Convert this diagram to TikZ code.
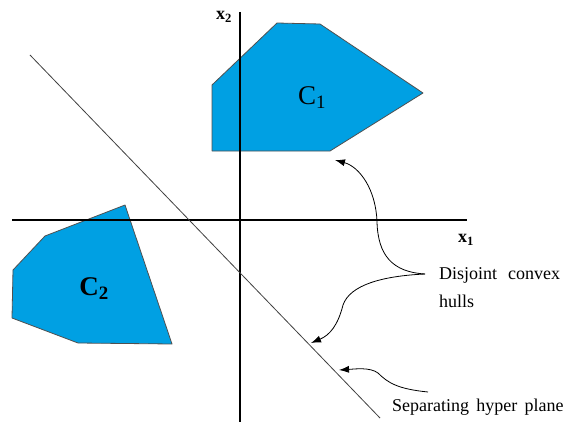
\documentclass[tikz,border=0pt]{standalone}
\usepackage{fontspec}
\setmainfont{Liberation Serif}
\usetikzlibrary{arrows.meta}
\definecolor{hullblue}{RGB}{0,160,227}
\definecolor{hulledge}{RGB}{80,80,80}
\tikzset{
  hull/.style={fill=hullblue, draw=hulledge, line width=0.8pt, line join=round},
  axis/.style={draw=black, line width=1.8pt},
  sepline/.style={draw=black!75, line width=0.8pt},
  callout/.style={draw=black, line width=0.8pt, -{Latex[length=10pt,width=7pt]}},
  lbl/.style={font=\fontsize{18}{20}\selectfont, inner sep=1pt, anchor=west},
  axlbl/.style={font=\fontsize{18}{20}\selectfont\bfseries, inner sep=1pt},
  hulllbl/.style={font=\fontsize{27}{29}\selectfont, inner sep=1pt},
}
\begin{document}
\begin{tikzpicture}[x=1pt,y=-1pt]
\useasboundingbox (0,0) rectangle (567,425);
% hulls
\path[hull] (212,85) -- (277,23) -- (320,24) -- (423,93) -- (330,151) -- (212,151) -- cycle;
\path[hull] (125,205) -- (45,236) -- (13,270) -- (12,318) -- (78,343) -- (172,344) -- cycle;
% axes
\coordinate (xl) at (12,220);
\coordinate (xr) at (467,220);
\coordinate (yt) at (240,12);
\coordinate (yb) at (240,422);
\draw[axis] (xl) -- (xr);
\draw[axis] (yt) -- (yb);
% separating line
\coordinate (s1) at (30,55);
\coordinate (s2) at (380,418);
\draw[sepline] (s1) -- (s2);
% labels
\node[hulllbl] (c1) at (312,98) {C\textsubscript{1}};
\node[hulllbl,font=\fontsize{27}{29}\selectfont\bfseries] (c2) at (94,289) {C\textsubscript{2}};
\node[axlbl] (x1) at (466,240) {x\textsubscript{1}};
\node[axlbl] (x2) at (224,17) {x\textsubscript{2}};
\node[lbl] (dis) at (438,275) {Disjoint\hspace{0.6em}convex};
\node[lbl] (hul) at (438,301) {hulls};
\node[lbl] (sep) at (391,407) {Separating\hspace{0.4em}hyper\hspace{0.4em}plane};
% callouts
\coordinate (a1) at (425,274);
\coordinate (t1) at (335,160);
\coordinate (t2) at (311,343);
\coordinate (t3) at (339,370);
\coordinate (a3) at (428,392);
\draw[callout] (a1) .. controls (392,272) and (378,255) .. (377,222)
  .. controls (376,190) and (360,167) .. (t1);
\draw[callout] (a1) .. controls (382,276) and (350,285) .. (343,305)
  .. controls (338,325) and (330,335) .. (t2);
\draw[callout] (a3) .. controls (398,389) and (388,383) .. (378,373)
  .. controls (370,367) and (355,369) .. (t3);
\end{tikzpicture}
\end{document}
